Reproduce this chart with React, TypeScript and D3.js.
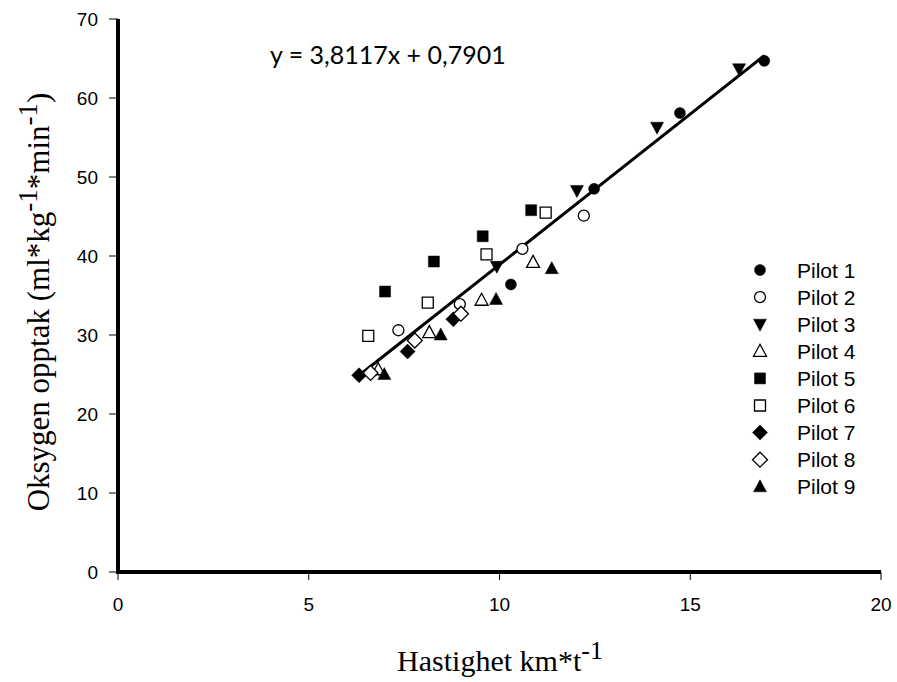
import React from "react";
import * as d3 from "d3";

const pilotNames = ["Pilot 1","Pilot 2","Pilot 3","Pilot 4","Pilot 5","Pilot 6","Pilot 7","Pilot 8","Pilot 9"];
const pilotShapes = ["circle","circle","triDown","triUp","square","square","diamond","diamond","triUp"];
const pilotFilled = [true,false,true,false,true,false,true,false,true];

const p1x = [10.3, 12.48, 14.73, 16.94];
const p1y = [36.4, 48.5, 58.1, 64.7];
const p2x = [7.35, 8.96, 10.6, 12.21];
const p2y = [30.6, 33.9, 40.9, 45.1];
const p3x = [9.93, 12.03, 14.13, 16.28];
const p3y = [38.7, 48.3, 56.3, 63.7];
const p4x = [6.82, 8.16, 9.53, 10.88];
const p4y = [25.6, 30.3, 34.4, 39.2];
const p5x = [7.0, 8.28, 9.56, 10.83];
const p5y = [35.5, 39.3, 42.5, 45.8];
const p6x = [6.56, 8.12, 9.66, 11.21];
const p6y = [29.9, 34.1, 40.2, 45.5];
const p7x = [6.32, 7.59, 8.79];
const p7y = [24.9, 27.9, 32.0];
const p8x = [6.62, 7.78, 8.99];
const p8y = [25.2, 29.3, 32.7];
const p9x = [6.98, 8.46, 9.91, 11.37];
const p9y = [25.0, 30.0, 34.5, 38.4];

const seriesX = [p1x, p2x, p3x, p4x, p5x, p6x, p7x, p8x, p9x];
const seriesY = [p1y, p2y, p3y, p4y, p5y, p6y, p7y, p8y, p9y];

const xTicks = [0, 5, 10, 15, 20];
const yTicks = [0, 10, 20, 30, 40, 50, 60, 70];
const slope = 3.8117;
const intercept = 0.7901;
const fitRange = [6.3, 16.94];
const equationText = "y = 3,8117x + 0,7901";

function markerPath(shape: string): string {
  switch (shape) {
    case "circle": {
      const p = d3.path();
      p.arc(0, 0, 5.5, 0, Math.PI * 2);
      return p.toString();
    }
    case "square":
      return "M-5.5,-5.5L5.5,-5.5L5.5,5.5L-5.5,5.5Z";
    case "diamond":
      return "M0,-7.5L7.5,0L0,7.5L-7.5,0Z";
    case "triUp":
      return "M0,-7L6.5,5L-6.5,5Z";
    case "triDown":
      return "M0,7L6.5,-5L-6.5,-5Z";
  }
  return "";
}

function Marker({ cx, cy, i }: { cx: number; cy: number; i: number }) {
  const filled = pilotFilled[i];
  return (
    <path
      d={markerPath(pilotShapes[i])}
      transform={`translate(${cx},${cy})`}
      fill={filled ? "#000" : "#fff"}
      stroke="#000"
      strokeWidth={filled ? 0.5 : 1.3}
    />
  );
}

export default function App() {
  const W = 897, H = 682;
  const x = d3.scaleLinear().domain([0, 20]).range([118, 881]);
  const y = d3.scaleLinear().domain([0, 70]).range([572, 19]);
  const line = d3.line<number>().x(d => x(d)).y(d => y(slope * d + intercept));
  const tickFont = "'Liberation Sans', Arial, sans-serif";
  const serif = "'Liberation Serif', 'Times New Roman', serif";

  return (
    <div style={{ position: "absolute", left: 0, top: 0 }}>
      <svg width={W} height={H} style={{ display: "block", background: "#fff" }}>
        <rect width={W} height={H} fill="#fff" />
        <path d={line(fitRange) || ""} stroke="#000" strokeWidth={3} fill="none" />
        {seriesX.map((xs, i) =>
          xs.map((xv, j) => (
            <Marker key={`${i}-${j}`} cx={x(xv)} cy={y(seriesY[i][j])} i={i} />
          ))
        )}
        <line x1={x(0)} x2={x(0)} y1={y(70)} y2={y(0) + 2} stroke="#000" strokeWidth={4} />
        <line x1={x(0) - 2} x2={x(20)} y1={y(0)} y2={y(0)} stroke="#000" strokeWidth={4} />
        {yTicks.map(t => (
          <g key={`yt${t}`}>
            <line x1={x(0) - 9} x2={x(0)} y1={y(t)} y2={y(t)} stroke="#000" strokeWidth={1} />
            <text x={98} y={y(t)} dy="0.35em" textAnchor="end" fontFamily={tickFont} fontSize={19}>{t}</text>
          </g>
        ))}
        {xTicks.map(t => (
          <g key={`xt${t}`}>
            <line x1={x(t)} x2={x(t)} y1={y(0)} y2={y(0) + 8} stroke="#000" strokeWidth={1} />
            <text x={x(t)} y={611} textAnchor="middle" fontFamily={tickFont} fontSize={19}>{t}</text>
          </g>
        ))}
        <text x={270} y={64} fontFamily="Lato, 'Open Sans', sans-serif" fontSize={25}>{equationText}</text>
        <text x={500} y={671} textAnchor="middle" fontFamily={serif} fontSize={30}>
          Hastighet km*t<tspan dy={-12} fontSize={26}>-1</tspan>
        </text>
        <text transform="translate(49,302) rotate(-90)" textAnchor="middle" fontFamily={serif} fontSize={31}>
          Oksygen opptak (ml*kg<tspan dy={-12} fontSize={27}>-1</tspan>
          <tspan dy={12}>*min</tspan>
          <tspan dy={-12} fontSize={27}>-1</tspan>
          <tspan dy={12}>)</tspan>
        </text>
        {pilotNames.map((n, i) => (
          <g key={n} transform={`translate(760,${270 + i * 27.1})`}>
            <path
              d={markerPath(pilotShapes[i])}
              fill={pilotFilled[i] ? "#000" : "#fff"}
              stroke="#000"
              strokeWidth={pilotFilled[i] ? 0.5 : 1.3}
            />
            <text x={37} y={0} dy="0.36em" fontFamily={tickFont} fontSize={21}>{n}</text>
          </g>
        ))}
      </svg>
    </div>
  );
}
